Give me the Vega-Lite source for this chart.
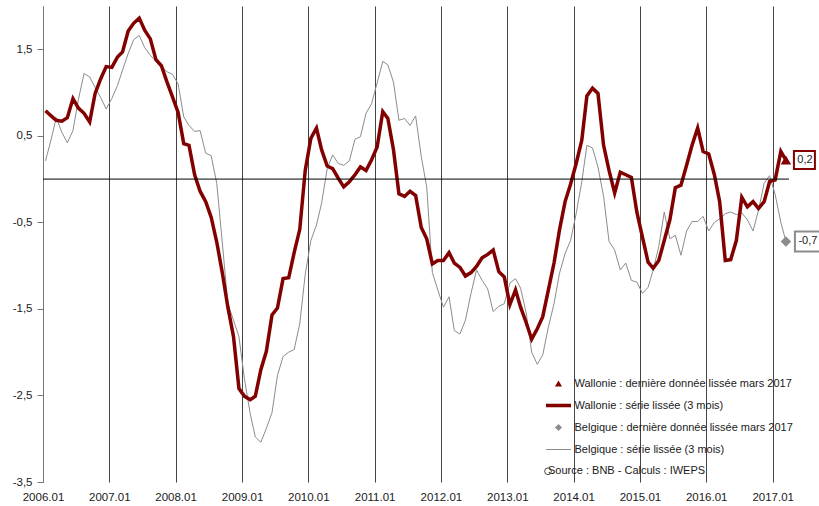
{
  "$schema": "https://vega.github.io/schema/vega-lite/v6.json",
  "width": 746,
  "height": 476,
  "autosize": {"type": "none"},
  "padding": {"left": 43, "top": 6, "right": 30, "bottom": 24},
  "background": "white",
  "config": {
    "view": {"stroke": null},
    "font": "Liberation Sans",
    "axis": {"labelFont": "Liberation Sans", "labelFontSize": 11.5, "labelColor": "#1a1a1a", "title": null}
  },
  "datasets": {
    "series": [
      {"d": "2006-01-15", "w": 0.79, "b": 0.21},
      {"d": "2006-02-15", "w": 0.73, "b": 0.46},
      {"d": "2006-03-15", "w": 0.68, "b": 0.71},
      {"d": "2006-04-15", "w": 0.67, "b": 0.54},
      {"d": "2006-05-15", "w": 0.71, "b": 0.42},
      {"d": "2006-06-15", "w": 0.93, "b": 0.56},
      {"d": "2006-07-15", "w": 0.82, "b": 0.92},
      {"d": "2006-08-15", "w": 0.76, "b": 1.22},
      {"d": "2006-09-15", "w": 0.66, "b": 1.18},
      {"d": "2006-10-15", "w": 0.99, "b": 1.06},
      {"d": "2006-11-15", "w": 1.16, "b": 0.94},
      {"d": "2006-12-15", "w": 1.30, "b": 0.81},
      {"d": "2007-01-15", "w": 1.29, "b": 0.93},
      {"d": "2007-02-15", "w": 1.41, "b": 1.08},
      {"d": "2007-03-15", "w": 1.47, "b": 1.26},
      {"d": "2007-04-15", "w": 1.71, "b": 1.45},
      {"d": "2007-05-15", "w": 1.80, "b": 1.61},
      {"d": "2007-06-15", "w": 1.86, "b": 1.66},
      {"d": "2007-07-15", "w": 1.72, "b": 1.52},
      {"d": "2007-08-15", "w": 1.62, "b": 1.43},
      {"d": "2007-09-15", "w": 1.38, "b": 1.36},
      {"d": "2007-10-15", "w": 1.31, "b": 1.30},
      {"d": "2007-11-15", "w": 1.12, "b": 1.24},
      {"d": "2007-12-15", "w": 0.95, "b": 1.21},
      {"d": "2008-01-15", "w": 0.77, "b": 1.10},
      {"d": "2008-02-15", "w": 0.41, "b": 0.72},
      {"d": "2008-03-15", "w": 0.39, "b": 0.62},
      {"d": "2008-04-15", "w": 0.05, "b": 0.55},
      {"d": "2008-05-15", "w": -0.14, "b": 0.56},
      {"d": "2008-06-15", "w": -0.26, "b": 0.30},
      {"d": "2008-07-15", "w": -0.44, "b": 0.27},
      {"d": "2008-08-15", "w": -0.73, "b": -0.05},
      {"d": "2008-09-15", "w": -1.09, "b": -0.75},
      {"d": "2008-10-15", "w": -1.48, "b": -1.44},
      {"d": "2008-11-15", "w": -1.82, "b": -1.63},
      {"d": "2008-12-15", "w": -2.42, "b": -1.82},
      {"d": "2009-01-15", "w": -2.51, "b": -2.32},
      {"d": "2009-02-15", "w": -2.55, "b": -2.71},
      {"d": "2009-03-15", "w": -2.51, "b": -2.98},
      {"d": "2009-04-15", "w": -2.20, "b": -3.04},
      {"d": "2009-05-15", "w": -1.99, "b": -2.88},
      {"d": "2009-06-15", "w": -1.57, "b": -2.70},
      {"d": "2009-07-15", "w": -1.49, "b": -2.27},
      {"d": "2009-08-15", "w": -1.15, "b": -2.05},
      {"d": "2009-09-15", "w": -1.14, "b": -2.00},
      {"d": "2009-10-15", "w": -0.85, "b": -1.97},
      {"d": "2009-11-15", "w": -0.58, "b": -1.67},
      {"d": "2009-12-15", "w": 0.10, "b": -1.10},
      {"d": "2010-01-15", "w": 0.47, "b": -0.71},
      {"d": "2010-02-15", "w": 0.59, "b": -0.53},
      {"d": "2010-03-15", "w": 0.34, "b": -0.28},
      {"d": "2010-04-15", "w": 0.15, "b": 0.12},
      {"d": "2010-05-15", "w": 0.12, "b": 0.28},
      {"d": "2010-06-15", "w": 0.01, "b": 0.18},
      {"d": "2010-07-15", "w": -0.09, "b": 0.16},
      {"d": "2010-08-15", "w": -0.03, "b": 0.21},
      {"d": "2010-09-15", "w": 0.05, "b": 0.46},
      {"d": "2010-10-15", "w": 0.14, "b": 0.49},
      {"d": "2010-11-15", "w": 0.10, "b": 0.76},
      {"d": "2010-12-15", "w": 0.22, "b": 0.87},
      {"d": "2011-01-15", "w": 0.37, "b": 1.11},
      {"d": "2011-02-15", "w": 0.78, "b": 1.36},
      {"d": "2011-03-15", "w": 0.70, "b": 1.32},
      {"d": "2011-04-15", "w": 0.34, "b": 1.12},
      {"d": "2011-05-15", "w": -0.17, "b": 0.68},
      {"d": "2011-06-15", "w": -0.20, "b": 0.70},
      {"d": "2011-07-15", "w": -0.14, "b": 0.62},
      {"d": "2011-08-15", "w": -0.19, "b": 0.73},
      {"d": "2011-09-15", "w": -0.56, "b": 0.26},
      {"d": "2011-10-15", "w": -0.69, "b": -0.09},
      {"d": "2011-11-15", "w": -0.98, "b": -1.08},
      {"d": "2011-12-15", "w": -0.94, "b": -1.28},
      {"d": "2012-01-15", "w": -0.94, "b": -1.48},
      {"d": "2012-02-15", "w": -0.85, "b": -1.36},
      {"d": "2012-03-15", "w": -0.97, "b": -1.75},
      {"d": "2012-04-15", "w": -1.02, "b": -1.79},
      {"d": "2012-05-15", "w": -1.12, "b": -1.63},
      {"d": "2012-06-15", "w": -1.08, "b": -1.32},
      {"d": "2012-07-15", "w": -1.01, "b": -1.05},
      {"d": "2012-08-15", "w": -0.91, "b": -1.17},
      {"d": "2012-09-15", "w": -0.87, "b": -1.27},
      {"d": "2012-10-15", "w": -0.82, "b": -1.53},
      {"d": "2012-11-15", "w": -1.07, "b": -1.47},
      {"d": "2012-12-15", "w": -1.13, "b": -1.44},
      {"d": "2013-01-15", "w": -1.45, "b": -1.20},
      {"d": "2013-02-15", "w": -1.28, "b": -1.15},
      {"d": "2013-03-15", "w": -1.48, "b": -1.26},
      {"d": "2013-04-15", "w": -1.66, "b": -1.55},
      {"d": "2013-05-15", "w": -1.85, "b": -2.00},
      {"d": "2013-06-15", "w": -1.73, "b": -2.14},
      {"d": "2013-07-15", "w": -1.59, "b": -2.03},
      {"d": "2013-08-15", "w": -1.28, "b": -1.71},
      {"d": "2013-09-15", "w": -0.97, "b": -1.44},
      {"d": "2013-10-15", "w": -0.59, "b": -1.09},
      {"d": "2013-11-15", "w": -0.26, "b": -0.86},
      {"d": "2013-12-15", "w": -0.06, "b": -0.71},
      {"d": "2014-01-15", "w": 0.18, "b": -0.40},
      {"d": "2014-02-15", "w": 0.45, "b": -0.03},
      {"d": "2014-03-15", "w": 0.96, "b": 0.39},
      {"d": "2014-04-15", "w": 1.05, "b": 0.36},
      {"d": "2014-05-15", "w": 0.99, "b": 0.14},
      {"d": "2014-06-15", "w": 0.39, "b": -0.20},
      {"d": "2014-07-15", "w": 0.10, "b": -0.72},
      {"d": "2014-08-15", "w": -0.16, "b": -0.82},
      {"d": "2014-09-15", "w": 0.08, "b": -1.05},
      {"d": "2014-10-15", "w": 0.05, "b": -0.97},
      {"d": "2014-11-15", "w": 0.02, "b": -1.17},
      {"d": "2014-12-15", "w": -0.38, "b": -1.19},
      {"d": "2015-01-15", "w": -0.67, "b": -1.32},
      {"d": "2015-02-15", "w": -0.96, "b": -1.25},
      {"d": "2015-03-15", "w": -1.03, "b": -1.05},
      {"d": "2015-04-15", "w": -0.94, "b": -0.78},
      {"d": "2015-05-15", "w": -0.71, "b": -0.38},
      {"d": "2015-06-15", "w": -0.47, "b": -0.69},
      {"d": "2015-07-15", "w": -0.10, "b": -0.65},
      {"d": "2015-08-15", "w": -0.07, "b": -0.88},
      {"d": "2015-09-15", "w": 0.16, "b": -0.60},
      {"d": "2015-10-15", "w": 0.39, "b": -0.49},
      {"d": "2015-11-15", "w": 0.59, "b": -0.49},
      {"d": "2015-12-15", "w": 0.32, "b": -0.43},
      {"d": "2016-01-15", "w": 0.29, "b": -0.60},
      {"d": "2016-02-15", "w": 0.05, "b": -0.50},
      {"d": "2016-03-15", "w": -0.26, "b": -0.46},
      {"d": "2016-04-15", "w": -0.94, "b": -0.40},
      {"d": "2016-05-15", "w": -0.93, "b": -0.38},
      {"d": "2016-06-15", "w": -0.71, "b": -0.41},
      {"d": "2016-07-15", "w": -0.21, "b": -0.39},
      {"d": "2016-08-15", "w": -0.32, "b": -0.47},
      {"d": "2016-09-15", "w": -0.26, "b": -0.60},
      {"d": "2016-10-15", "w": -0.34, "b": -0.36},
      {"d": "2016-11-15", "w": -0.26, "b": -0.05},
      {"d": "2016-12-15", "w": -0.03, "b": 0.04},
      {"d": "2017-01-15", "w": -0.01, "b": -0.18},
      {"d": "2017-02-15", "w": 0.32, "b": -0.50},
      {"d": "2017-03-15", "w": 0.22, "b": -0.72}
    ],
    "last": [
      {"d": "2017-03-15", "id": "W", "serie": "Wallonie : dernière donnée lissée mars 2017", "value": 0.22, "label": "0,2"},
      {"d": "2017-03-15", "id": "B", "serie": "Belgique : dernière donnée lissée mars 2017", "value": -0.72, "label": "-0,7"}
    ],
    "note": [
      {"d": "2013-08-13", "value": -3.376, "t": "Source : BNB - Calculs : IWEPS"}
    ]
  },
  "layer": [
    {
      "data": {"name": "series"},
      "mark": {"type": "line", "strokeWidth": 1, "color": "#8c8c8c"},
      "encoding": {
        "x": {
          "field": "d", "type": "temporal",
          "scale": {"domain": [{"year": 2006, "month": 1, "date": 1}, {"year": 2017, "month": 4, "date": 1}]},
          "axis": {
            "tickCount": {"interval": "year", "step": 1},
            "format": "%Y.%m",
            "grid": true, "gridColor": "#444444", "gridWidth": 1, "gridOpacity": 1,
            "domain": false, "ticks": false, "labelPadding": 9, "labelFlush": false, "labelOverlap": false
          }
        },
        "y": {
          "field": "b", "type": "quantitative",
          "scale": {"domain": [-3.5, 2.0], "nice": false, "zero": false},
          "axis": {
            "values": [-3.5, -2.5, -1.5, -0.5, 0.5, 1.5],
            "labelExpr": "replace(replace(format(datum.value, '.1f'), '.', ','), '−', '-')",
            "grid": false, "domain": true, "domainColor": "#777777", "domainWidth": 1,
            "ticks": true, "tickSize": 6, "tickColor": "#777777", "labelPadding": 5
          }
        }
      }
    },
    {
      "data": {"name": "series"},
      "mark": {"type": "line", "strokeWidth": 3.5, "strokeJoin": "miter", "color": "#820000"},
      "encoding": {
        "x": {"field": "d", "type": "temporal"},
        "y": {"field": "w", "type": "quantitative"}
      }
    },
    {
      "data": {"values": [{"z": 0}]},
      "mark": {"type": "rule", "color": "#000000", "strokeWidth": 1},
      "encoding": {
        "y": {"field": "z", "type": "quantitative"}
      }
    },
    {
      "data": {"name": "last"},
      "mark": {"type": "point", "filled": true, "opacity": 1, "size": 110},
      "encoding": {
        "x": {"field": "d", "type": "temporal"},
        "y": {"field": "value", "type": "quantitative"},
        "fill": {
          "field": "serie", "type": "nominal",
          "scale": {
            "domain": ["Wallonie : dernière donnée lissée mars 2017", "Wallonie : série lissée (3 mois)", "Belgique : dernière donnée lissée mars 2017", "Belgique : série lissée (3 mois)"],
            "range": ["#820000", "#820000", "#8c8c8c", "#8c8c8c"]
          },
          "legend": {
            "title": null,
            "orient": "none",
            "legendX": 510,
            "legendY": 372,
            "padding": 0,
            "rowPadding": 10,
            "labelFont": "Liberation Sans",
            "labelFontSize": 11,
            "labelColor": "#1a1a1a",
            "labelLimit": 400,
            "labelOffset": 10.5,
            "symbolSize": 50,
            "symbolOpacity": 1,
            "symbolStrokeWidth": 0
          }
        },
        "shape": {
          "field": "serie", "type": "nominal",
          "scale": {
            "domain": ["Wallonie : dernière donnée lissée mars 2017", "Wallonie : série lissée (3 mois)", "Belgique : dernière donnée lissée mars 2017", "Belgique : série lissée (3 mois)"],
            "range": ["triangle-up", "M -3.54 -0.5 H 3.54 V 0.5 H -3.54 Z", "diamond", "M -3.54 -0.14 H 3.54 V 0.14 H -3.54 Z"]
          },
          "legend": {
            "title": null,
            "orient": "none",
            "legendX": 510,
            "legendY": 372,
            "padding": 0,
            "rowPadding": 10,
            "labelFont": "Liberation Sans",
            "labelFontSize": 11,
            "labelColor": "#1a1a1a",
            "labelLimit": 400,
            "labelOffset": 10.5,
            "symbolSize": 50,
            "symbolOpacity": 1,
            "symbolStrokeWidth": 0
          }
        }
      }
    },
    {
      "data": {"name": "last"},
      "transform": [{"filter": "datum.id == 'W'"}],
      "mark": {"type": "point", "shape": "M 0.889 -1 H 3.222 V 1 H 0.889 Z", "size": 324, "filled": true, "fill": "#ffffff", "stroke": "#820000", "strokeWidth": 2, "opacity": 1},
      "encoding": {
        "x": {"field": "d", "type": "temporal"},
        "y": {"field": "value", "type": "quantitative"}
      }
    },
    {
      "data": {"name": "last"},
      "transform": [{"filter": "datum.id == 'B'"}],
      "mark": {"type": "point", "shape": "M 0.9 -1 H 3.5 V 1 H 0.9 Z", "size": 400, "filled": true, "fill": "#ffffff", "stroke": "#8c8c8c", "strokeWidth": 2, "opacity": 1},
      "encoding": {
        "x": {"field": "d", "type": "temporal"},
        "y": {"field": "value", "type": "quantitative"}
      }
    },
    {
      "data": {"name": "last"},
      "transform": [{"filter": "datum.id == 'W'"}],
      "mark": {"type": "text", "font": "Liberation Sans", "fontSize": 11, "color": "#1a1a1a", "align": "center", "baseline": "middle", "dx": 19},
      "encoding": {
        "x": {"field": "d", "type": "temporal"},
        "y": {"field": "value", "type": "quantitative"},
        "text": {"field": "label"}
      }
    },
    {
      "data": {"name": "last"},
      "transform": [{"filter": "datum.id == 'B'"}],
      "mark": {"type": "text", "font": "Liberation Sans", "fontSize": 11, "color": "#1a1a1a", "align": "center", "baseline": "middle", "dx": 22},
      "encoding": {
        "x": {"field": "d", "type": "temporal"},
        "y": {"field": "value", "type": "quantitative"},
        "text": {"field": "label"}
      }
    },
    {
      "data": {"name": "note"},
      "mark": {"type": "text", "font": "Liberation Sans", "fontSize": 11, "color": "#1a1a1a", "align": "left", "baseline": "middle"},
      "encoding": {
        "x": {"field": "d", "type": "temporal"},
        "y": {"field": "value", "type": "quantitative"},
        "text": {"field": "t"}
      }
    },
    {
      "data": {"name": "note"},
      "mark": {"type": "point", "shape": "circle", "filled": false, "color": "#444444", "strokeWidth": 1, "size": 45, "opacity": 1},
      "encoding": {
        "x": {"field": "d", "type": "temporal"},
        "y": {"field": "value", "type": "quantitative"}
      }
    }
  ]
}
